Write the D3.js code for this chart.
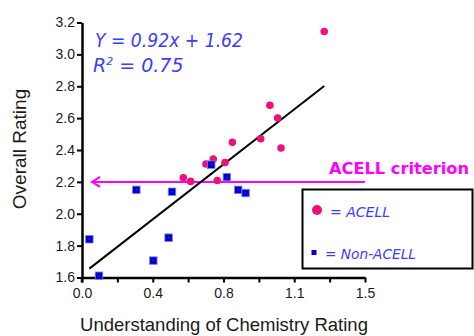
<!DOCTYPE html>
<html>
<head>
<meta charset="utf-8">
<script src="https://cdn.jsdelivr.net/npm/d3@7"></script>
<style>
  html, body { margin: 0; padding: 0; background: #fff; }
  svg { display: block; }
</style>
</head>
<body>
<svg id="chart" width="474" height="336"></svg>
<script>
// ACELL courses: (chemistry understanding rating, overall rating)
const acellX = [0.537, 0.576, 0.657, 0.696, 0.717, 0.758, 0.797, 0.947, 0.996, 1.037, 1.055, 1.284];
const acellY = [2.226, 2.203, 2.312, 2.343, 2.209, 2.322, 2.448, 2.471, 2.681, 2.601, 2.413, 3.144];

// Non-ACELL courses
const nonX = [0.039, 0.090, 0.288, 0.378, 0.459, 0.477, 0.685, 0.768, 0.828, 0.867];
const nonY = [1.840, 1.611, 2.150, 1.706, 1.850, 2.138, 2.308, 2.230, 2.150, 2.130];

// Linear fit Y = 0.92x + 1.62, R² = 0.75
const fitSlope = 0.92;
const fitIntercept = 1.62;
const fitR2 = 0.75;

// ACELL criterion level and the span of its arrow
const criterionY = 2.2;
const criterionSpan = [0.053, 1.5];

// Axis ticks
const xMajorTicks = [0, 0.375, 0.75, 1.125, 1.5];
const xMajorLabels = ["0.0", "0.4", "0.8", "1.1", "1.5"];
const xMinorTicks = [0.1875, 0.5625, 0.9375, 1.3125];
const yTicks = [1.6, 1.8, 2.0, 2.2, 2.4, 2.6, 2.8, 3.0, 3.2];

const PINK = "#ee1177";
const BLUE = "#0000cc";
const TEXT_BLUE = "#3c3cff";
const MAGENTA = "#ff00ff";
const HAND = "'DejaVu Sans', sans-serif";

const svg = d3.select("#chart");

const x = d3.scaleLinear().domain([0, 1.5]).range([82, 365]);
const y = d3.scaleLinear().domain([1.6, 3.2]).range([277.5, 22.5]);

// ---- axes ----
const xAxis = d3.axisBottom(x)
  .tickValues(xMajorTicks.concat(xMinorTicks))
  .tickSize(5)
  .tickSizeOuter(0)
  .tickFormat(d => {
    const i = xMajorTicks.indexOf(d);
    return i >= 0 ? xMajorLabels[i] : "";
  });

const gx = svg.append("g")
  .attr("transform", `translate(0,${y(1.6)})`)
  .call(xAxis);

const yAxis = d3.axisLeft(y)
  .tickValues(yTicks)
  .tickSize(5)
  .tickSizeOuter(0)
  .tickFormat(d3.format(".1f"));

const gy = svg.append("g")
  .attr("transform", `translate(${x(0)},0)`)
  .call(yAxis);

[gx, gy].forEach(g => {
  g.select(".domain").attr("stroke", "#000").attr("stroke-width", 2.5);
  g.selectAll(".tick line").attr("stroke", "#000").attr("stroke-width", 2);
  g.selectAll(".tick text")
    .attr("fill", "#1a1a1a")
    .style("font-family", "'Liberation Sans', Arial, sans-serif")
    .style("font-size", "14px");
});
// extend the y-axis line down through the x-axis like a tick
gy.append("line")
  .attr("x1", 0).attr("x2", 0)
  .attr("y1", y(1.6)).attr("y2", y(1.6) + 5)
  .attr("stroke", "#000").attr("stroke-width", 2.5);
gx.selectAll(".tick text").attr("dy", "0.9em");
gy.selectAll(".tick text").attr("x", -7);

// ---- axis titles ----
svg.append("text")
  .attr("x", 224).attr("y", 331)
  .attr("text-anchor", "middle")
  .style("font-family", "'Liberation Sans', Arial, sans-serif")
  .style("font-size", "18.5px")
  .attr("fill", "#1a1a1a")
  .text("Understanding of Chemistry Rating");

svg.append("text")
  .attr("transform", "translate(26,149) rotate(-90)")
  .attr("text-anchor", "middle")
  .style("font-family", "'Liberation Sans', Arial, sans-serif")
  .style("font-size", "19px")
  .attr("fill", "#1a1a1a")
  .text("Overall Rating");

// ---- criterion arrow ----
const cy = y(criterionY);
svg.append("line")
  .attr("x1", x(criterionSpan[0])).attr("x2", x(criterionSpan[1]))
  .attr("y1", cy).attr("y2", cy)
  .attr("stroke", MAGENTA).attr("stroke-width", 2);
const ax = x(criterionSpan[0]);
svg.append("path")
  .attr("d", `M${ax + 8},${cy - 5} L${ax},${cy} L${ax + 8},${cy + 5}`)
  .attr("fill", "none").attr("stroke", MAGENTA).attr("stroke-width", 2);

svg.append("text")
  .attr("x", 329).attr("y", 174)
  .attr("fill", MAGENTA)
  .style("font-family", HAND)
  .style("font-size", "16px")
  .style("font-weight", "bold")
  .attr("textLength", 140)
  .attr("lengthAdjust", "spacingAndGlyphs")
  .text("ACELL criterion");

// ---- regression line ----
const allX = acellX.concat(nonX);
const xMin = d3.min(allX), xMax = d3.max(allX);
svg.append("line")
  .attr("x1", x(xMin)).attr("y1", y(fitSlope * xMin + fitIntercept))
  .attr("x2", x(xMax)).attr("y2", y(fitSlope * xMax + fitIntercept))
  .attr("stroke", "#000").attr("stroke-width", 2);

// ---- points ----
const acell = acellX.map((v, i) => ({ x: v, y: acellY[i] }));
const non = nonX.map((v, i) => ({ x: v, y: nonY[i] }));

svg.append("g").selectAll("circle")
  .data(acell).join("circle")
  .attr("cx", d => x(d.x)).attr("cy", d => y(d.y))
  .attr("r", 3.8)
  .attr("fill", PINK);

const sq = 7.5;
const gs = svg.append("g");
gs.selectAll("rect.sq")
  .data(non).join("rect")
  .attr("class", "sq")
  .attr("x", d => x(d.x) - sq / 2).attr("y", d => y(d.y) - sq / 2)
  .attr("width", sq).attr("height", sq)
  .attr("fill", BLUE)
  .attr("stroke", "#8080f0").attr("stroke-width", 0.8);
gs.selectAll("rect.dot")
  .data(non).join("rect")
  .attr("class", "dot")
  .attr("x", d => x(d.x) - 0.5).attr("y", d => y(d.y) - 0.5)
  .attr("width", 1).attr("height", 1)
  .attr("fill", "#d0206a");

// ---- fit equation ----
svg.append("text")
  .attr("x", 95).attr("y", 47)
  .attr("fill", TEXT_BLUE)
  .style("font-family", HAND)
  .style("font-size", "19px")
  .style("font-style", "italic")
  .attr("textLength", 148)
  .attr("lengthAdjust", "spacingAndGlyphs")
  .text(`Y = ${fitSlope}x + ${fitIntercept}`);

const r2 = svg.append("text")
  .attr("x", 93).attr("y", 72)
  .attr("fill", TEXT_BLUE)
  .style("font-family", HAND)
  .style("font-size", "19px")
  .style("font-style", "italic");
r2.append("tspan").text("R");
r2.append("tspan").attr("dy", -7).style("font-size", "11px").text("2");
r2.append("tspan").attr("dy", 7).text(` = ${fitR2}`);

// ---- legend ----
const lg = svg.append("g");
lg.append("rect")
  .attr("x", 302.5).attr("y", 189.5)
  .attr("width", 170).attr("height", 79)
  .attr("fill", "#fff").attr("stroke", "#000").attr("stroke-width", 2);
lg.append("circle")
  .attr("cx", 317).attr("cy", 210).attr("r", 5)
  .attr("fill", PINK);
lg.append("text")
  .attr("x", 330).attr("y", 217)
  .attr("fill", TEXT_BLUE)
  .style("font-family", HAND)
  .style("font-size", "14px")
  .style("font-style", "italic")
  .attr("textLength", 60)
  .attr("lengthAdjust", "spacingAndGlyphs")
  .text("= ACELL");
lg.append("rect")
  .attr("x", 311.5).attr("y", 250).attr("width", 5).attr("height", 5)
  .attr("fill", BLUE);
lg.append("text")
  .attr("x", 325).attr("y", 259)
  .attr("fill", TEXT_BLUE)
  .style("font-family", HAND)
  .style("font-size", "14px")
  .style("font-style", "italic")
  .attr("textLength", 91)
  .attr("lengthAdjust", "spacingAndGlyphs")
  .text("= Non-ACELL");
</script>
</body>
</html>
